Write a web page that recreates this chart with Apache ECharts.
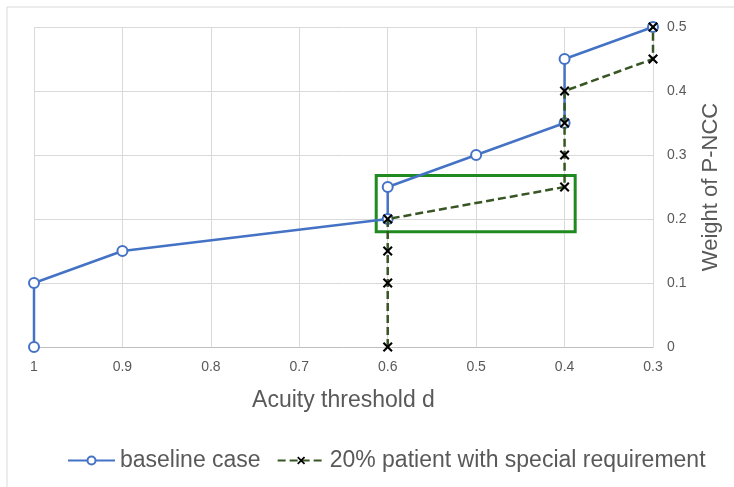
<!DOCTYPE html>
<html>
<head>
<meta charset="utf-8">
<script src="https://cdn.jsdelivr.net/npm/echarts@6/dist/echarts.min.js"></script>
<style>
    html, body {margin: 0; padding: 0; background: #fff;}
    #chart1 {width: 734px; height: 487px;}
</style>
</head>
<body>
<div id="chart1"></div>
<script>
// 数据
var baselineX = [1, 1, 0.9, 0.6, 0.6, 0.5, 0.4, 0.4, 0.3];
var baselineY = [0, 0.1, 0.15, 0.2, 0.25, 0.3, 0.35, 0.45, 0.5];
var specialX = [0.6, 0.6, 0.6, 0.6, 0.4, 0.4, 0.4, 0.4, 0.3, 0.3];
var specialY = [0, 0.1, 0.15, 0.2, 0.25, 0.3, 0.35, 0.4, 0.45, 0.5];
// 绿色框（标注区域）
var boxX = [0.613, 0.388];
var boxY = [0.18, 0.268];

var fontFam = "'Liberation Sans', Arial, sans-serif";

function toPairs(xs, ys) {
    var arr = [];
    for (var i = 0; i < xs.length; i++) {
        arr.push([xs[i], ys[i]]);
    }
    return arr;
}

function fmt(v) {
    return String(Math.round(v * 10) / 10);
}

var myChart1 = echarts.init(document.getElementById('chart1'));
var crossPath = 'path://M0,1.5 L1.5,0 L5,3.5 L8.5,0 L10,1.5 L6.5,5 L10,8.5 L8.5,10 L5,6.5 L1.5,10 L0,8.5 L3.5,5 Z';

var option = {
    animation: false,
    backgroundColor: '#fff',
    graphic: [{
        type: 'rect',
        shape: {x: 7, y: 7, width: 740, height: 490},
        style: {fill: 'none', stroke: '#d9d9d9', lineWidth: 1},
        silent: true
    }],
    grid: {left: 34, right: 81, top: 27, bottom: 140},
    legend: {
        top: 444,
        left: 62,
        itemWidth: 47,
        itemHeight: 10,
        itemGap: 16,
        textStyle: {fontSize: 23, color: '#595959', fontFamily: fontFam},
        data: ['baseline case', '20% patient with special requirement']
    },
    xAxis: {
        type: 'value',
        inverse: true,
        min: 0.3,
        max: 1,
        interval: 0.1,
        name: 'Acuity threshold d',
        nameLocation: 'middle',
        nameGap: 42,
        nameTextStyle: {fontSize: 23, color: '#595959', fontFamily: fontFam},
        axisLine: {show: true, lineStyle: {color: '#bfbfbf', width: 1}},
        axisTick: {show: false},
        axisLabel: {fontSize: 14, color: '#595959', fontFamily: fontFam, margin: 13, formatter: fmt},
        splitLine: {show: true, lineStyle: {color: '#d9d9d9', width: 1}}
    },
    yAxis: {
        type: 'value',
        position: 'right',
        min: 0,
        max: 0.5,
        interval: 0.1,
        name: 'Weight of P-NCC',
        nameLocation: 'middle',
        nameGap: 47,
        nameRotate: 90,
        nameTextStyle: {fontSize: 22, color: '#595959', fontFamily: fontFam},
        axisLine: {show: false},
        axisTick: {show: false},
        axisLabel: {fontSize: 14, color: '#595959', fontFamily: fontFam, margin: 14, formatter: fmt},
        splitLine: {show: true, lineStyle: {color: '#d9d9d9', width: 1}}
    },
    series: [
        {
            name: 'baseline case',
            type: 'line',
            data: toPairs(baselineX, baselineY),
            symbol: 'emptyCircle',
            symbolSize: 10,
            lineStyle: {color: '#4472C4', width: 2.5},
            itemStyle: {color: '#4472C4', borderWidth: 1.5},
            z: 2
        },
        {
            name: '20% patient with special requirement',
            type: 'line',
            data: toPairs(specialX, specialY),
            symbol: crossPath,
            symbolSize: 10,
            lineStyle: {color: '#375623', width: 2.5, type: [8, 4]},
            itemStyle: {color: '#000'},
            z: 3,
            markArea: {
                silent: true,
                itemStyle: {color: 'rgba(0,0,0,0)', borderColor: '#1f8a1f', borderWidth: 3},
                data: [[{coord: [boxX[0], boxY[1]]}, {coord: [boxX[1], boxY[0]]}]]
            }
        }
    ]
};
myChart1.setOption(option);
</script>
</body>
</html>
